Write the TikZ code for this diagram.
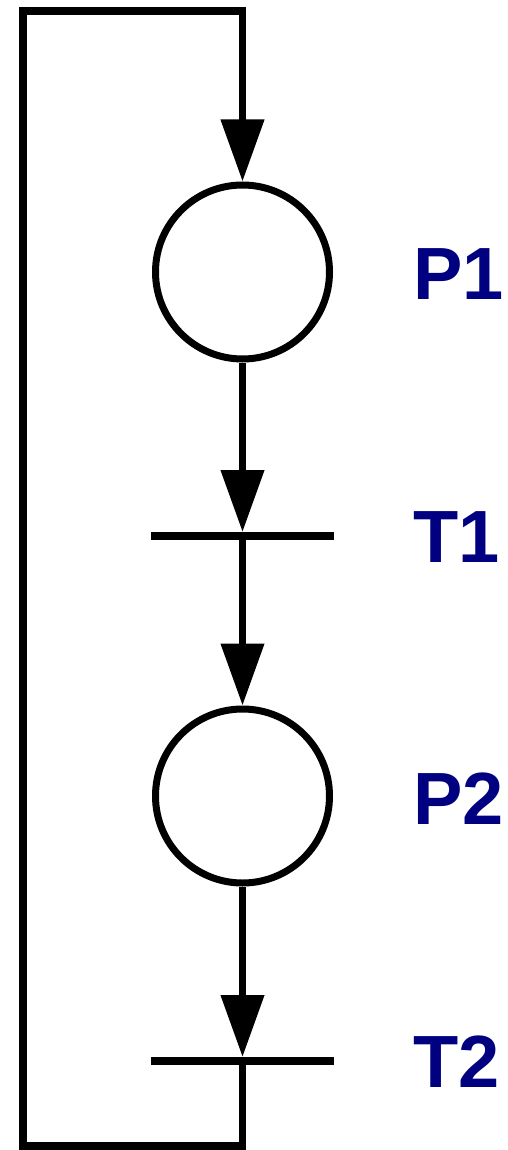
\documentclass[tikz,border=0pt]{standalone}
\usepackage{fontspec}
\setmainfont{Liberation Sans}
\usetikzlibrary{arrows.meta}
\definecolor{labelblue}{RGB}{0,0,128}
\begin{document}
\begin{tikzpicture}[x=1pt,y=-1pt,
  place/.style={circle,draw=black,line width=7pt,minimum size=174pt,inner sep=0pt,outer sep=3.5pt},
  trans/.style={rectangle,fill=black,minimum width=183pt,minimum height=8pt,inner sep=0pt,outer sep=0pt},
  arc/.style={line width=7.5pt,-{Triangle[length=62pt,width=42pt]}},
  plain/.style={line width=7.5pt},
  lbl/.style={anchor=base west,inner sep=0pt,text=labelblue,font=\fontsize{74}{78}\selectfont\bfseries}]
\useasboundingbox (0,0) rectangle (508,1150);
\node[place] (P1) at (242.5,272) {};
\node[trans] (T1) at (242.5,536) {};
\node[place] (P2) at (242.5,796) {};
\node[trans] (T2) at (242.5,1061) {};
\coordinate (c1) at (242.5,1146);
\coordinate (c2) at (23,1146);
\coordinate (c3) at (23,11);
\coordinate (c4) at (242.5,11);
\draw[arc] (P1.south) -- (T1.north);
\draw[plain] (T1.center) -- (T1.south);
\draw[arc] (T1.south) -- (P2.north);
\draw[arc] (P2.south) -- (T2.north);
\draw[plain] (T2.center) -- (c1) -- (c2) -- (c3) -- (c4) -- ++(0,10);
\draw[arc] (c4) -- (P1.north);
\node[lbl] (L1) at (413,299) {P1};
\node[lbl] (L2) at (413,562) {T1};
\node[lbl] (L3) at (413,824) {P2};
\node[lbl] (L4) at (413,1087) {T2};
\end{tikzpicture}
\end{document}
